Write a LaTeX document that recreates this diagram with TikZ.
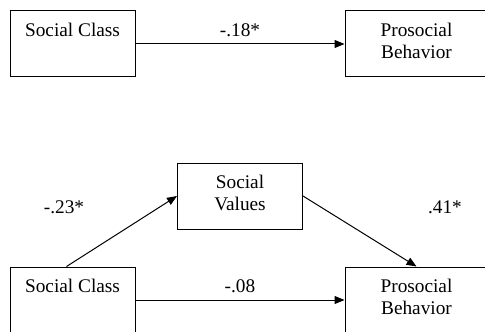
\documentclass[tikz,border=0pt]{standalone}
\usepackage{fontspec}
\setmainfont{Liberation Serif}
\usetikzlibrary{arrows.meta,positioning}

\begin{document}
\begin{tikzpicture}[
    x=0.5pt, y=-0.5pt,
    node distance=94.5pt and 104.5pt,
    box/.style={rectangle, draw, line width=0.5pt, minimum width=62.5pt, minimum height=33pt, inner sep=0pt, align=center, text height=12.75pt, text depth=20.25pt, font=\fontsize{9.65pt}{11pt}\selectfont},
    twoline/.style={text height=23.75pt, text depth=9.25pt},
    widebox/.style={box, twoline, minimum width=71.5pt},
    coef/.style={inner sep=0pt, font=\fontsize{9.65pt}{11pt}\selectfont},
    arrow/.style={-{Triangle[length=5pt,width=4pt]}, line width=0.5pt}
]
\useasboundingbox (0,0) rectangle (485,331);

% ============ MODELE TOTAL ============
\node[box] (class-a) at (72.5,44) {Social Class};
\node[widebox, right=of class-a] (behavior-a) {Prosocial\\Behavior};

% ============ MODELE MEDIATION ============
\node[box, below=of class-a] (class-b) {Social Class};
\node[widebox, right=of class-b] (behavior-b) {Prosocial\\Behavior};
\node[box, twoline] (values) at (240,196) {Social\\Values};

\node[coef] (coef-values) at (64,207) {-.23*};
\node[coef] (coef-behavior) at (445,207) {.41*};

% ============ CONNEXIONS ============
\draw[arrow] (class-a) -- node[coef, above=3.4pt] (coef-total) {-.18*} (behavior-a);
\draw[arrow] (class-b) -- node[coef, above=3.4pt] (coef-direct) {-.08} (behavior-b);
\draw[arrow] ([xshift=-3pt]class-b.north) -- (values.west);
\draw[arrow] (values.east) -- (behavior-b.north);

\end{tikzpicture}
\end{document}
